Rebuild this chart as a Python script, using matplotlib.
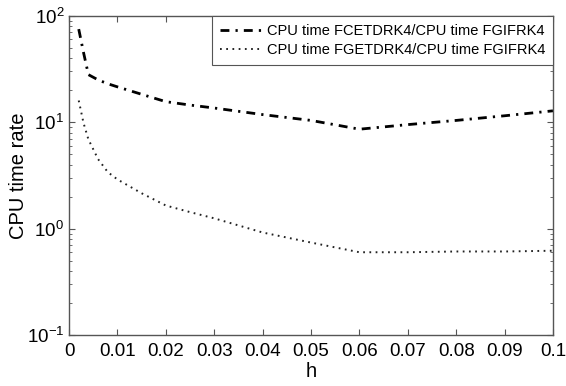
import matplotlib
matplotlib.use("Agg")
import matplotlib.pyplot as plt
from matplotlib.ticker import FixedLocator, LogLocator, NullFormatter

plt.rcParams['font.family'] = ['Liberation Sans', 'DejaVu Sans']
plt.rcParams['mathtext.fontset'] = 'custom'
plt.rcParams['mathtext.rm'] = 'Liberation Sans'
plt.rcParams['mathtext.it'] = 'Liberation Sans'

# step sizes h and CPU time ratios
h = [0.002, 0.003, 0.004, 0.006, 0.008, 0.01, 0.015, 0.02, 0.025, 0.03,
     0.04, 0.05, 0.06, 0.07, 0.08, 0.09, 0.1]
fcetdrk4 = [75, 45, 28, 25, 23, 21.5, 18.3, 15.6, 14.5, 13.6,
            11.8, 10.4, 8.6, 9.5, 10.4, 11.5, 12.8]
fgetdrk4 = [16, 9.8, 6.9, 4.5, 3.4, 2.9, 2.15, 1.65, 1.43, 1.25,
            0.92, 0.74, 0.60, 0.60, 0.61, 0.61, 0.62]

labels = ["CPU time FCETDRK4/CPU time FGIFRK4",
          "CPU time FGETDRK4/CPU time FGIFRK4"]
xticks = [0, 0.01, 0.02, 0.03, 0.04, 0.05, 0.06, 0.07, 0.08, 0.09, 0.1]
xticklabels = ["0", "0.01", "0.02", "0.03", "0.04", "0.05", "0.06", "0.07", "0.08", "0.09", "0.1"]

fig = plt.figure(figsize=(5.66, 3.86), dpi=100)
ax = fig.add_axes([0.122, 0.132, 0.855, 0.827])

ax.plot(h, fcetdrk4, color="black", lw=2.0, linestyle=(0, (3.2, 2.2, 0.8, 2.2)), label=labels[0])
ax.plot(h, fgetdrk4, color="#222222", lw=1.4, linestyle=(0, (0.9, 2.3)), label=labels[1])

ax.set_yscale("log")
ax.set_xlim(0, 0.1)
ax.set_ylim(0.1, 100)
ax.set_xticks(xticks)
ax.set_xticklabels(xticklabels)
ax.yaxis.set_major_locator(FixedLocator([0.1, 1, 10, 100]))
ax.yaxis.set_minor_locator(LogLocator(base=10, subs=range(2, 10)))
ax.yaxis.set_minor_formatter(NullFormatter())

ax.tick_params(which="both", direction="in", top=True, right=True, labelsize=13.5, color="#555555")
ax.tick_params(which="major", length=4)
ax.tick_params(which="minor", length=2)
ax.tick_params(axis="x", pad=6)
for s in ax.spines.values():
    s.set_color("#555555")
    s.set_linewidth(1.0)

ax.set_xlabel("h", fontsize=14.5, labelpad=1)
ax.set_ylabel("CPU time rate", fontsize=14.5)
ax.yaxis.set_label_coords(-0.085, 0.5)

leg = ax.legend(loc="upper right", fontsize=10.5, fancybox=False, framealpha=1,
                edgecolor="#555555", borderaxespad=0, handlelength=2.8,
                borderpad=0.55, labelspacing=0.35, handletextpad=0.4)
leg.get_frame().set_linewidth(0.8)

fig.savefig("out.png", dpi=100)
